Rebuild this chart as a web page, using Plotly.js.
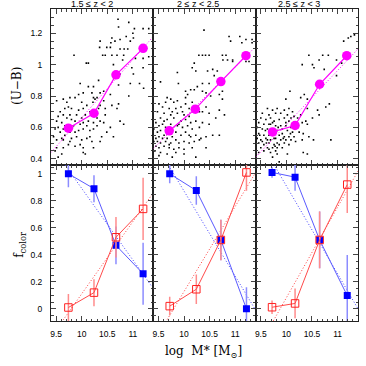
<!DOCTYPE html>
<html>
<head>
<meta charset="utf-8">
<script src="https://cdn.plot.ly/plotly-3.0.1.min.js"></script>
<style>
  html, body { margin: 0; padding: 0; background: #fff; }
  #fig { width: 366px; height: 366px; }
</style>
</head>
<body>
<div id="fig"></div>
<script>
// redshift bins
var binLabels = ['1.5 \u2264 z < 2', '2 \u2264 z < 2.5', '2.5 \u2264 z < 3'];

// individual galaxies, [log M*, U-B], one list per bin
var dots1 = [[10.71,1.29],[10.92,1.27],[10.72,1.24],[11.03,1.23],[11.20,1.23],[11.31,1.23],[11.00,1.20],
  [10.87,1.18],[11.01,1.17],[10.36,1.15],[10.59,1.17],[10.65,1.15],[10.75,1.16],[10.57,1.14],[10.95,1.15],
  [10.56,1.11],[10.35,1.11],[10.49,1.11],[10.75,1.10],[10.83,1.10],[10.90,1.10],[10.41,1.06],[10.46,1.06],
  [10.59,1.06],[10.69,1.06],[10.82,1.06],[9.85,1.06],[10.09,1.01],[10.13,1.01],[10.80,1.03],[11.05,1.04],
  [11.20,1.04],[11.31,1.05],[11.20,0.98],[11.01,0.94],[10.75,0.94],[10.33,0.90],[10.23,0.86],[10.95,0.88],
  [11.13,0.88],[10.72,0.87],[11.21,0.85],[9.97,0.88],[10.20,0.82],[10.23,0.79],[10.26,0.78],[10.22,0.76],
  [10.03,0.82],[9.94,0.81],[9.87,0.79],[9.77,0.79],[9.64,0.78],[9.51,0.77],[9.71,0.76],[9.74,0.73],
  [9.67,0.72],[9.80,0.72],[10.00,0.76],[10.03,0.72],[10.10,0.74],[10.36,0.74],[10.43,0.77],[10.46,0.72],
  [10.33,0.72],[10.69,0.72],[10.59,0.74],[10.07,0.68],[10.00,0.66],[9.90,0.68],[9.77,0.68],[9.64,0.68],
  [9.54,0.67],[9.51,0.64],[9.61,0.63],[9.71,0.66],[9.87,0.64],[9.97,0.62],[10.03,0.63],[10.13,0.64],
  [10.36,0.64],[10.43,0.63],[10.30,0.61],[9.54,0.60],[9.48,0.59],[9.58,0.57],[9.67,0.55],[9.77,0.57],
  [9.87,0.57],[9.94,0.58],[10.03,0.59],[10.16,0.58],[10.23,0.59],[10.56,0.60],[10.62,0.54],[10.75,0.64],
  [10.82,0.62],[9.51,0.52],[9.64,0.52],[9.77,0.51],[9.90,0.54],[10.00,0.52],[10.10,0.53],[10.20,0.51],
  [10.36,0.51],[9.51,0.47],[9.64,0.47],[9.74,0.49],[9.87,0.48],[10.03,0.47],[10.23,0.47],[10.03,0.44],
  [9.61,0.43],[9.48,0.45],[9.54,0.41],[10.07,0.43],[9.64,0.59],[9.84,0.61],[9.45,0.54],[10.39,0.54],
  [10.46,0.68],[10.30,0.66],[10.36,0.82],[10.56,0.81],[10.72,0.75],[9.58,0.70],[9.80,0.65],[9.94,0.71],
  [10.16,0.70],[9.67,0.61],[10.10,0.61],[10.23,0.63],[10.49,0.57],[9.61,0.53],[9.80,0.53],[9.97,0.49],
  [10.16,0.54],[10.30,0.79],[10.13,0.86],[10.43,0.83],[10.92,0.80],[10.98,0.98],[10.62,1.00]];

var dots2 = [[10.39,1.22],[10.88,1.18],[11.09,1.18],[11.21,1.16],[11.33,1.16],[10.91,1.15],[11.13,1.14],
  [11.33,1.14],[10.29,1.06],[10.36,1.06],[10.42,1.06],[10.49,1.06],[10.75,1.06],[10.82,1.06],[10.76,1.03],
  [10.85,1.03],[10.95,1.03],[10.95,1.02],[11.21,1.02],[11.27,1.02],[10.16,0.98],[10.20,1.01],[10.46,0.96],
  [10.56,0.97],[10.65,0.96],[10.59,0.93],[9.87,0.95],[10.23,0.96],[9.54,0.89],[9.89,0.88],[10.26,0.86],
  [10.36,0.88],[10.49,0.88],[10.20,0.84],[10.13,0.84],[10.03,0.83],[10.36,0.83],[10.43,0.82],[10.75,0.83],
  [10.69,0.81],[10.75,0.78],[10.07,0.81],[10.03,0.79],[9.67,0.79],[9.74,0.78],[9.64,0.76],[9.80,0.76],
  [9.87,0.77],[9.51,0.75],[9.58,0.73],[9.71,0.72],[9.84,0.72],[9.94,0.73],[10.03,0.75],[10.10,0.72],
  [10.16,0.76],[10.43,0.73],[10.36,0.70],[10.49,0.69],[10.69,0.71],[10.79,0.68],[10.62,0.66],[9.48,0.70],
  [9.61,0.69],[9.74,0.68],[9.87,0.69],[10.00,0.68],[10.10,0.67],[9.54,0.66],[9.67,0.65],[9.80,0.66],
  [9.94,0.64],[10.03,0.65],[10.13,0.63],[10.23,0.64],[10.36,0.63],[10.49,0.62],[9.45,0.63],[9.51,0.61],
  [9.58,0.62],[9.64,0.60],[9.74,0.62],[9.87,0.61],[9.97,0.60],[10.07,0.61],[10.16,0.59],[10.30,0.60],
  [9.41,0.59],[9.48,0.57],[9.54,0.58],[9.61,0.55],[9.51,0.54],[9.45,0.53],[9.58,0.53],[9.67,0.53],
  [9.77,0.54],[9.84,0.57],[9.94,0.55],[10.03,0.57],[10.13,0.54],[10.23,0.55],[10.33,0.53],[10.43,0.54],
  [10.56,0.55],[10.69,0.55],[9.48,0.51],[9.54,0.50],[9.64,0.51],[9.74,0.50],[9.84,0.52],[9.90,0.50],
  [10.00,0.51],[10.10,0.50],[10.20,0.51],[10.30,0.52],[9.45,0.48],[9.51,0.47],[9.61,0.48],[9.71,0.47],
  [9.80,0.46],[9.90,0.47],[10.00,0.46],[10.16,0.47],[10.43,0.47],[9.54,0.44],[9.67,0.43],[9.84,0.44],
  [10.00,0.43],[9.51,0.42],[9.77,0.41],[10.23,0.41],[9.43,0.45],[9.41,0.51],[9.77,0.59],[9.67,0.58],
  [9.90,0.62],[9.61,0.64],[10.10,0.55],[9.71,0.49],[10.30,0.70],[10.20,0.72],[9.97,0.70],[9.77,0.70],
  [10.52,0.80]];

var dots3 = [[11.33,1.19],[11.26,1.18],[11.21,1.17],[11.12,1.15],[10.44,1.06],[10.71,1.06],[10.82,1.06],
  [10.64,1.03],[10.98,1.03],[10.31,1.00],[10.51,1.00],[11.08,1.01],[10.54,0.98],[10.74,0.97],[10.98,0.93],
  [10.07,0.83],[10.35,0.81],[9.99,0.78],[10.28,0.79],[10.41,0.78],[10.84,0.75],[10.77,0.73],[10.61,0.71],
  [10.64,0.68],[10.51,0.66],[10.38,0.64],[10.41,0.62],[10.31,0.63],[10.22,0.66],[10.87,0.52],[10.53,0.52],
  [10.33,0.44],[10.41,0.43],[10.33,0.56],[10.44,0.54],[10.31,0.52],[9.63,0.72],[9.73,0.71],[9.82,0.72],
  [9.96,0.71],[10.05,0.72],[10.12,0.70],[9.53,0.69],[9.66,0.68],[9.79,0.69],[9.89,0.69],[10.02,0.68],
  [10.15,0.67],[9.50,0.66],[9.60,0.65],[9.69,0.66],[9.76,0.64],[9.86,0.65],[9.96,0.66],[10.05,0.64],
  [10.15,0.63],[9.46,0.63],[9.56,0.62],[9.66,0.62],[9.79,0.61],[9.89,0.61],[9.99,0.61],[10.09,0.60],
  [10.22,0.60],[9.43,0.60],[9.53,0.59],[9.63,0.59],[9.73,0.59],[9.82,0.58],[9.92,0.59],[10.02,0.58],
  [10.12,0.57],[10.25,0.57],[9.46,0.56],[9.56,0.55],[9.66,0.55],[9.76,0.56],[9.86,0.55],[9.96,0.54],
  [10.05,0.54],[10.15,0.54],[9.43,0.53],[9.50,0.52],[9.60,0.53],[9.69,0.52],[9.79,0.53],[9.89,0.52],
  [9.99,0.52],[10.09,0.52],[10.18,0.51],[9.46,0.50],[9.56,0.49],[9.66,0.50],[9.76,0.49],[9.86,0.49],
  [9.96,0.50],[10.05,0.49],[9.50,0.47],[9.63,0.47],[9.73,0.47],[9.82,0.47],[9.92,0.47],[9.56,0.45],
  [9.69,0.44],[9.79,0.45],[9.82,0.43],[9.46,0.44],[9.69,0.62],[9.76,0.53],[9.92,0.56],[9.99,0.63],
  [9.63,0.52],[9.82,0.50],[9.73,0.63],[9.53,0.51],[10.09,0.66],[10.18,0.61],[10.28,0.68],[10.41,0.72],
  [9.86,0.38],[10.02,0.43],[9.73,0.41],[9.59,0.58],[9.70,0.57],[9.84,0.60],[9.94,0.53],[9.48,0.55],
  [9.61,0.50],[9.78,0.48],[10.08,0.56],[9.66,0.46]];

// binned median colour
var medX1 = [9.74, 10.24, 10.67, 11.20], medY1 = [0.595, 0.69, 0.935, 1.104];
var medX2 = [9.71, 10.22, 10.72, 11.21], medY2 = [0.578, 0.716, 0.892, 1.057];
var medX3 = [9.73, 10.17, 10.65, 11.18], medY3 = [0.571, 0.612, 0.875, 1.057];

// linear fits (end points at the panel edges)
var fitX = [9.4, 11.4];
var fitCol1 = [0.44, 1.18], fitCol2 = [0.465, 1.115], fitCol3 = [0.41, 1.10];

// blue / red fractions
var fX1 = [9.74, 10.24, 10.67, 11.20];
var blue1 = [1.0, 0.89, 0.47, 0.26], blueErr1 = [0.1, 0.1, 0.14, 0.23];
var red1 = [0.01, 0.12, 0.53, 0.74], redErr1 = [0.1, 0.1, 0.15, 0.23];
var fX2 = [9.72, 10.24, 10.72, 11.22];
var blue2 = [1.0, 0.876, 0.51, 0.0], blueErr2 = [0.07, 0.105, 0.15, 0.16];
var red2 = [0.02, 0.145, 0.51, 1.01], redErr2 = [0.07, 0.11, 0.15, 0.135];
var fX3 = [9.72, 10.17, 10.65, 11.19];
var blue3 = [1.01, 0.975, 0.51, 0.098], blueErr3 = [0.04, 0.1, 0.21, 0.3];
var red3 = [0.012, 0.04, 0.51, 0.92], redErr3 = [0.05, 0.11, 0.21, 0.21];

var fitBlue1 = [1.21, 0.15], fitRed1 = [-0.21, 0.86];
var fitBlue2 = [1.25, -0.01], fitRed2 = [-0.25, 1.01];
var fitBlue3 = [1.30, 0.0], fitRed3 = [-0.32, 1.02];

var MAG = '#ff00ff', BLUE = '#0000ff', RED = '#ff2020';

function col(arr, i) { return arr.map(function (p) { return p[i]; }); }

var data = [];
function topPanel(n, dots, mx, my, fit) {
  var xa = n === 1 ? 'x' : 'x' + n, ya = n === 1 ? 'y' : 'y' + n;
  data.push({x: col(dots, 0), y: col(dots, 1), xaxis: xa, yaxis: ya, type: 'scatter', mode: 'markers',
    marker: {color: '#000', size: 1.6, symbol: 'square'}, hoverinfo: 'none'});
  data.push({x: fitX, y: fit, xaxis: xa, yaxis: ya, type: 'scatter', mode: 'lines',
    line: {color: MAG, width: 1, dash: '1px,2px'}});
  data.push({x: mx, y: my, xaxis: xa, yaxis: ya, type: 'scatter', mode: 'lines+markers',
    line: {color: MAG, width: 1.2}, marker: {color: MAG, size: 9.5}});
}
function botPanel(n, fx, b, be, r, re, fb, fr) {
  var xa = 'x' + n, ya = 'y' + n;
  data.push({x: fitX, y: fr, xaxis: xa, yaxis: ya, type: 'scatter', mode: 'lines',
    line: {color: '#ff4040', width: 1, dash: '1px,2px'}});
  data.push({x: fitX, y: fb, xaxis: xa, yaxis: ya, type: 'scatter', mode: 'lines',
    line: {color: '#4040ff', width: 1, dash: '1px,2px'}});
  data.push({x: fx, y: b, xaxis: xa, yaxis: ya, type: 'scatter', mode: 'lines+markers',
    line: {color: '#5a5aff', width: 1},
    error_y: {type: 'data', array: be, visible: true, color: '#8c8cff', thickness: 1.5, width: 0},
    marker: {color: BLUE, size: 7, symbol: 'square'}});
  data.push({x: fx, y: r, xaxis: xa, yaxis: ya, type: 'scatter', mode: 'lines+markers',
    line: {color: '#ff4a4a', width: 1},
    error_y: {type: 'data', array: re, visible: true, color: '#ff8c8c', thickness: 1.5, width: 0},
    marker: {color: RED, size: 7.5, symbol: 'square-open', line: {width: 1}}});
}

topPanel(1, dots1, medX1, medY1, fitCol1);
topPanel(2, dots2, medX2, medY2, fitCol2);
topPanel(3, dots3, medX3, medY3, fitCol3);
botPanel(4, fX1, blue1, blueErr1, red1, redErr1, fitBlue1, fitRed1);
botPanel(5, fX2, blue2, blueErr2, red2, redErr2, fitBlue2, fitRed2);
botPanel(6, fX3, blue3, blueErr3, red3, redErr3, fitBlue3, fitRed3);

var tickFont = {family: 'Liberation Sans, Arial, sans-serif', size: 8.5, color: '#000'};
function axis(extra) {
  var a = {showline: true, mirror: 'allticks', linecolor: '#222', linewidth: 1, ticks: 'inside',
    ticklen: 5, tickcolor: '#444', tickwidth: 1, showgrid: false, zeroline: false, tickfont: tickFont,
    fixedrange: true};
  for (var k in extra) a[k] = extra[k];
  return a;
}
var thirds = [[0, 1 / 3], [1 / 3, 2 / 3], [2 / 3, 1]];
var layout = {
  width: 366, height: 366, showlegend: false,
  margin: {l: 51, r: 8, t: 9, b: 45},
  paper_bgcolor: '#fff', plot_bgcolor: 'rgba(0,0,0,0)',
  annotations: []
};
for (var i = 0; i < 6; i++) {
  var n = i + 1, c = i % 3, isTop = i < 3;
  var xk = n === 1 ? 'xaxis' : 'xaxis' + n, yk = n === 1 ? 'yaxis' : 'yaxis' + n;
  layout[xk] = axis({domain: thirds[c], anchor: n === 1 ? 'y' : 'y' + n, range: [9.4, 11.4],
    tick0: 9.5, dtick: 0.5, minor: {dtick: 0.1, ticklen: 2.5, tickcolor: '#444', ticks: 'inside'},
    showticklabels: !isTop, ticklabelstandoff: 5});
  layout[yk] = axis({domain: isTop ? [0.5, 1] : [0, 0.5], anchor: n === 1 ? 'x' : 'x' + n,
    range: isTop ? [0.36, 1.355] : [-0.09, 1.065], tick0: 0, dtick: 0.2,
    minor: {dtick: 0.05, ticklen: 2.5, tickcolor: '#444', ticks: 'inside'},
    showticklabels: c === 0, ticklabelstandoff: 6});
}

var titleFont = {family: 'Liberation Sans, Arial, sans-serif', size: 9, color: '#000'};
var titlePos = [0.134, 0.479, 0.808];
for (var j = 0; j < 3; j++) {
  layout.annotations.push({xref: 'paper', yref: 'paper', x: titlePos[j], y: 1, xanchor: 'center',
    yanchor: 'bottom', yshift: -1, borderpad: 0, text: binLabels[j], showarrow: false, font: titleFont});
}
var serif = {family: 'DejaVu Serif, Liberation Serif, serif', size: 12, color: '#000'};
layout.annotations.push({xref: 'paper', yref: 'paper', x: -0.111, y: 0.753, textangle: -90,
  xanchor: 'center', yanchor: 'middle', text: '(U\u2212B)', showarrow: false, font: serif});
layout.annotations.push({xref: 'paper', yref: 'paper', x: -0.101, y: 0.244, textangle: -90,
  xanchor: 'center', yanchor: 'middle', text: 'f<sub>color</sub>', showarrow: false, font: serif});
layout.annotations.push({xref: 'paper', yref: 'paper', x: 0.498, y: -0.099,
  xanchor: 'center', yanchor: 'middle', text: 'log  M* [M<sub>\u2299</sub>]', showarrow: false, font: serif});

Plotly.newPlot('fig', data, layout, {displayModeBar: false, staticPlot: true});
</script>
</body>
</html>
